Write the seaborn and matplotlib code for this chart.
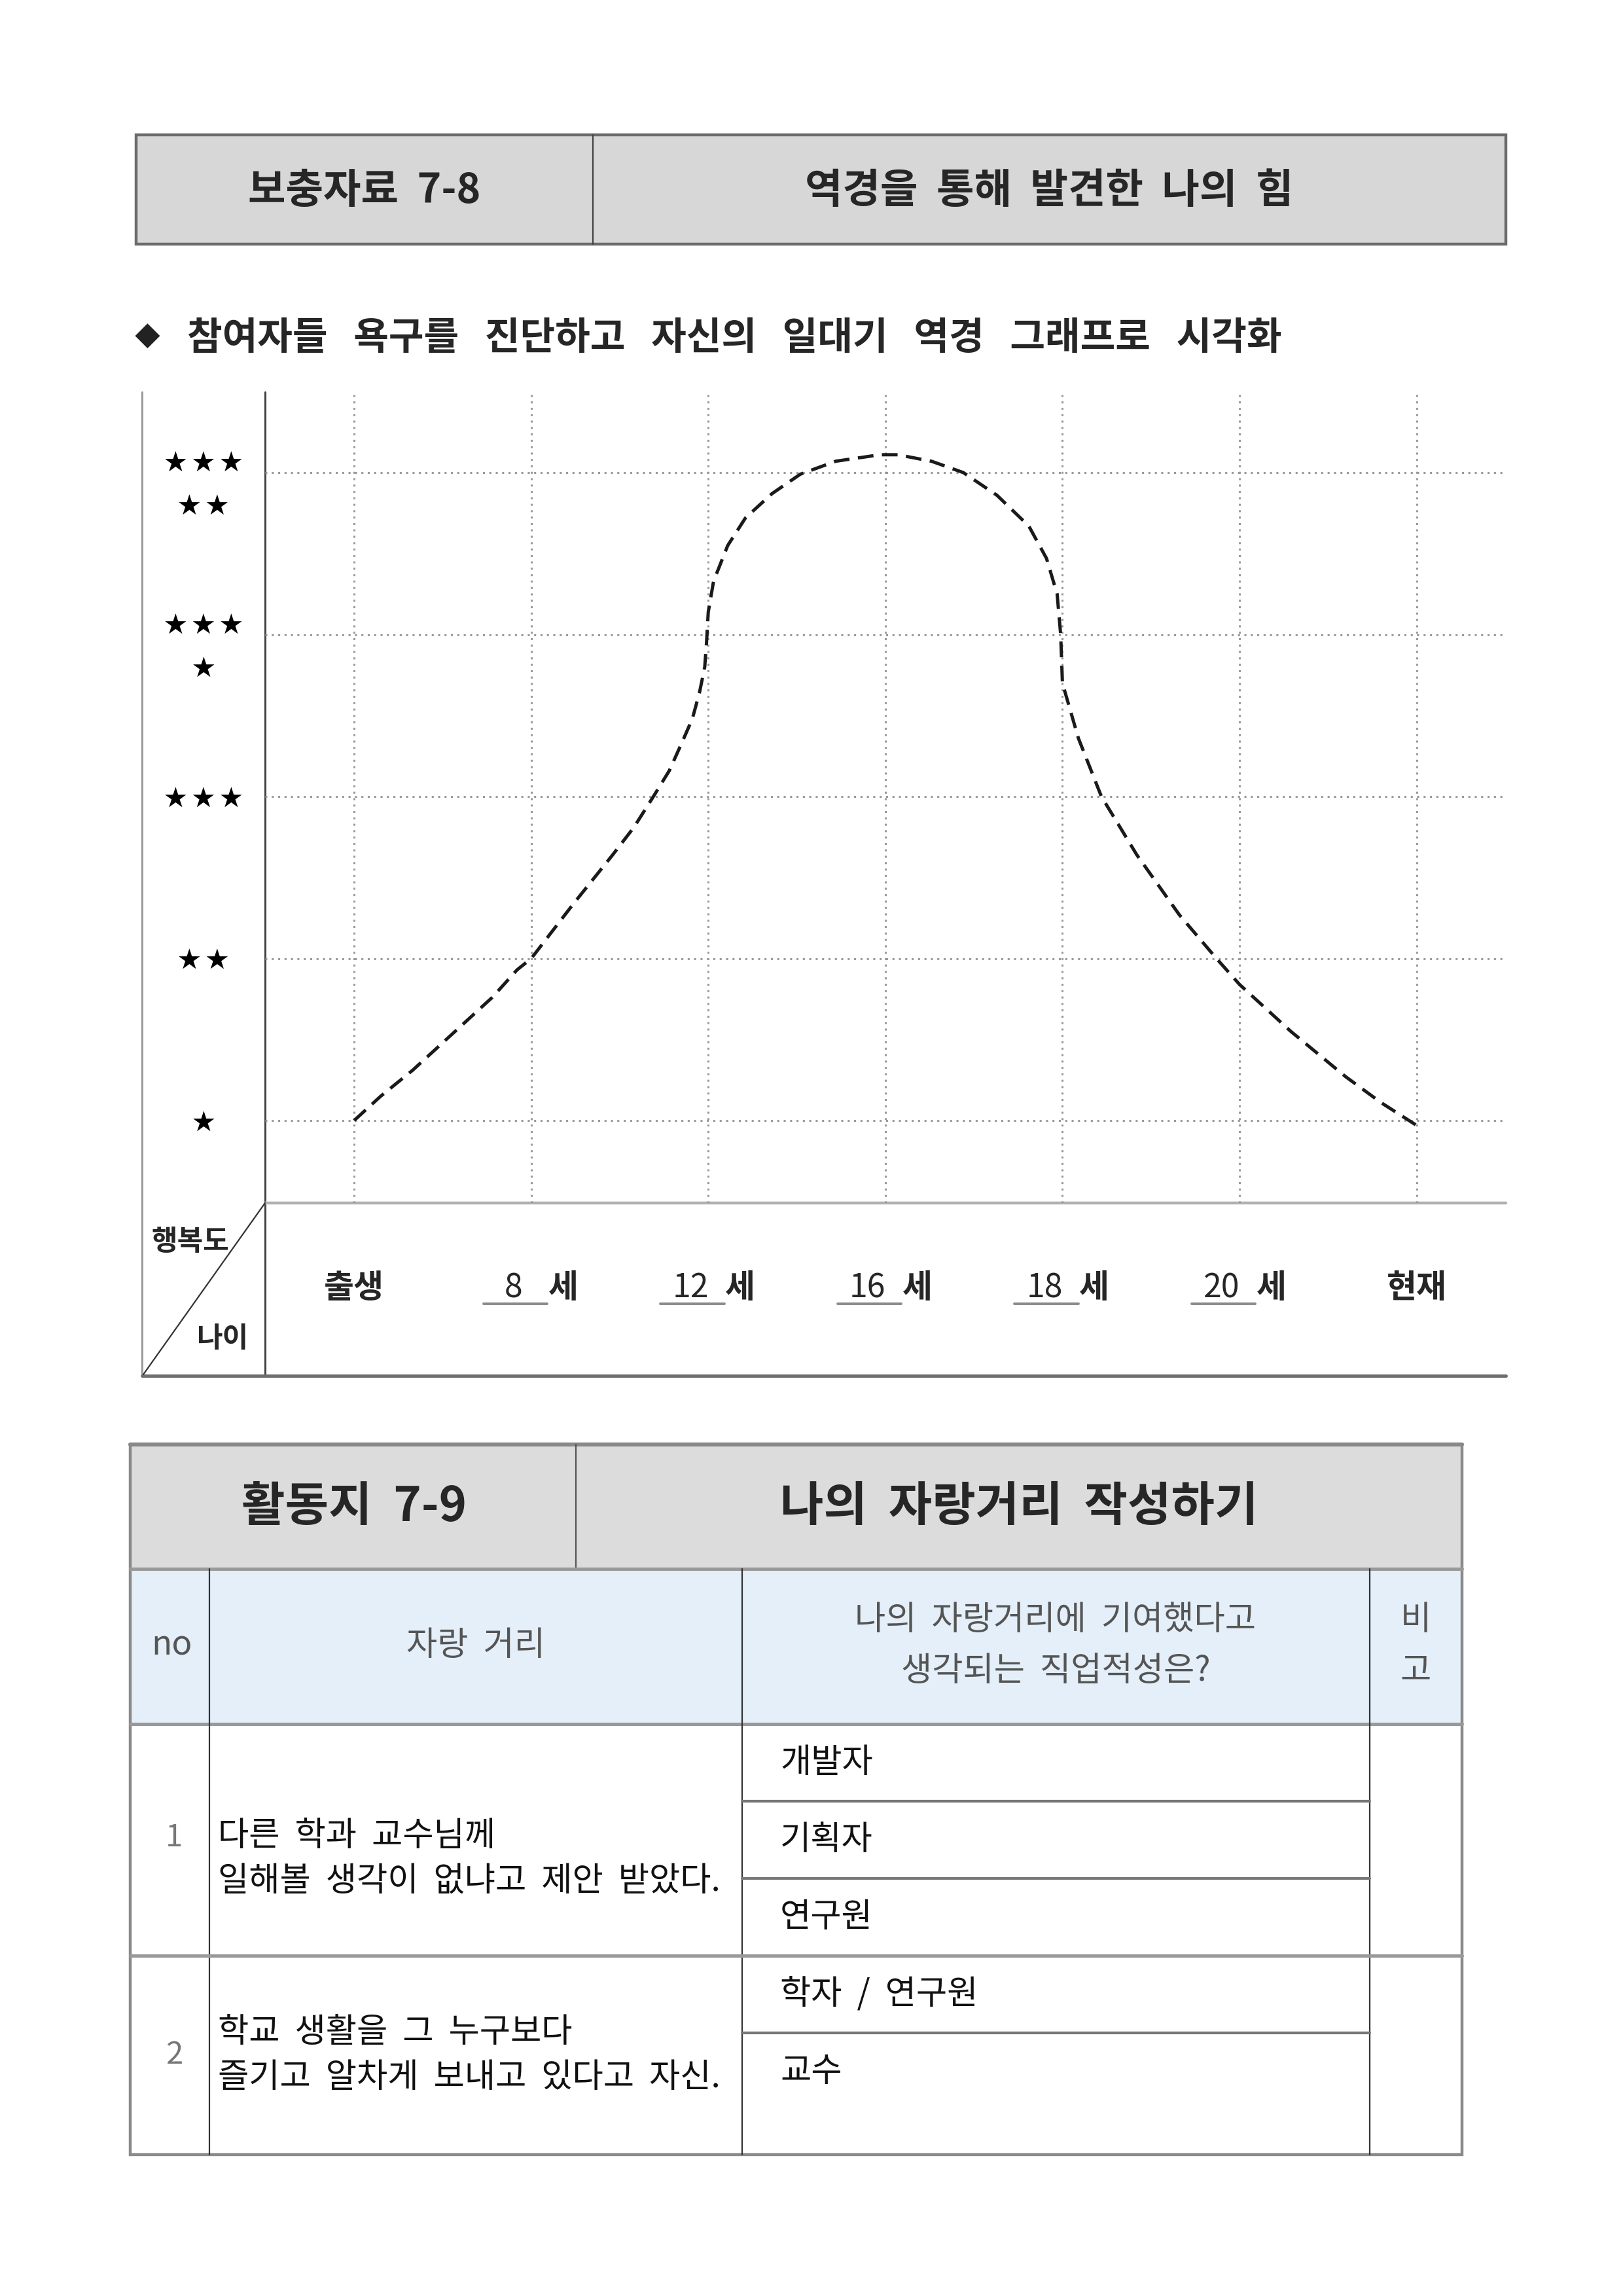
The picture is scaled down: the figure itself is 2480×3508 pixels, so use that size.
import matplotlib
matplotlib.use('Agg')
import matplotlib.pyplot as plt
import seaborn as sns
from matplotlib.patches import Rectangle

# ---- 데이터 ----
header_left = '보충자료  7-8'
header_right = '역경을  통해  발견한  나의  힘'
subtitle_mark = '◆'
subtitle = '참여자들   욕구를   진단하고   자신의   일대기   역경   그래프로   시각화'

ages = ['출생', '8', '12', '16', '18', '20', '현재']
age_unit = ['', '세', '세', '세', '세', '세', '']
levels = [1, 2, 3, 4, 5]
level_labels = ['★', '★ ★', '★ ★ ★', '★ ★ ★\n★', '★ ★ ★\n★ ★']

# 역경 곡선 (x: 나이 구간 위치, y: 행복도) - 그림에서 읽은 값
curve_x = [0.0, 0.15, 0.33, 0.48, 0.63, 0.78, 0.92, 1.0, 1.12, 1.24, 1.35, 1.46,
           1.58, 1.69, 1.78, 1.85, 1.91, 1.95, 1.98, 1.99, 2.0, 2.03, 2.11, 2.21,
           2.36, 2.52, 2.72, 2.97, 3.07, 3.26, 3.44, 3.63, 3.81, 3.91, 3.97, 3.99,
           4.0, 4.09, 4.22, 4.42, 4.66, 4.87, 5.0, 5.29, 5.60, 5.80, 6.0]
curve_y = [1.0, 1.15, 1.31, 1.46, 1.61, 1.76, 1.93, 2.0, 2.17, 2.34, 2.49, 2.64,
           2.81, 3.0, 3.16, 3.33, 3.48, 3.64, 3.80, 3.95, 4.14, 4.33, 4.55, 4.72,
           4.87, 4.99, 5.07, 5.11, 5.11, 5.07, 5.0, 4.86, 4.67, 4.47, 4.25, 4.0,
           3.70, 3.36, 3.0, 2.64, 2.27, 2.0, 1.84, 1.55, 1.27, 1.11, 0.97]

table_title_left = '활동지  7-9'
table_title_right = '나의  자랑거리  작성하기'
table_cols = ['no', '자랑  거리', '나의  자랑거리에  기여했다고\n생각되는  직업적성은?', '비\n고']
row_no = ['1', '2']
row_text = ['다른  학과  교수님께\n일해볼  생각이  없냐고  제안  받았다.',
            '학교  생활을  그  누구보다\n즐기고  알차게  보내고  있다고  자신.']
row_jobs = [['개발자', '기획자', '연구원'], ['학자  /  연구원', '교수']]

# ---- 스타일 ----
sns.set_theme(style='white')
plt.rcParams['font.family'] = ['Noto Sans CJK KR', 'DejaVu Sans']

W, H = 2480, 3508
fig = plt.figure(figsize=(W / 200, H / 200), dpi=200)
fig.patch.set_facecolor('white')

# 페이지 전체 (픽셀 좌표)
ov = fig.add_axes([0, 0, 1, 1])
ov.set_xlim(0, W)
ov.set_ylim(H, 0)
ov.axis('off')

# 상단 제목 상자
ov.add_patch(Rectangle((208, 206), 2093, 167, fc='#d7d7d7', ec='#6b6b6b', lw=1.6))
ov.plot([906, 906], [206, 373], color='#444444', lw=0.8)
ov.text(557, 291, header_left, ha='center', va='center', fontsize=22.5, fontweight='bold')
ov.text(1603, 291, header_right, ha='center', va='center', fontsize=22.5, fontweight='bold')

ov.text(206, 517, subtitle_mark, ha='left', va='center', fontsize=14, color='#222222')
ov.text(286, 517, subtitle, ha='left', va='center', fontsize=21, fontweight='bold')

# 그래프 틀
ov.plot([217, 217], [599, 2102], color='#9a9a9a', lw=1.1)
ov.plot([405, 405], [599, 2102], color='#444444', lw=1.1)
ov.plot([405, 2301], [1838, 1838], color='#b0b0b0', lw=1.6)
ov.plot([217, 2301], [2102, 2102], color='#6e6e6e', lw=1.8)
ov.plot([219, 405], [2100, 1838], color='#333333', lw=0.8)
ov.text(291, 1897, '행복도', ha='center', va='center', fontsize=15.5, fontweight='bold')
ov.text(340, 2045, '나이', ha='center', va='center', fontsize=15.5, fontweight='bold')

# ---- 역경 그래프 ----
ax = fig.add_axes([405 / W, 1 - 1838 / H, 1896 / W, 1239 / H])
ax.set_facecolor('none')
sns.lineplot(x=curve_x, y=curve_y, sort=False, estimator=None, color='#1a1a1a',
             lw=1.8, ax=ax)
ax.lines[0].set_linestyle((0, (4.8, 2.6)))

ax.set_xticks(range(len(ages)))
ax.set_xticklabels([])
ax.set_yticks(levels)
ax.set_yticklabels(level_labels)
for t in ax.get_yticklabels():
    t.set_ha('center')
    t.set_linespacing(2.15)
ax.tick_params(axis='y', length=0, pad=34, labelsize=12.5, labelcolor='black')
ax.tick_params(axis='x', length=0)
ax.grid(True, color='#999999', linestyle=(0, (1, 2.2)), lw=1.1)
for s in ax.spines.values():
    s.set_visible(False)

xtr = ax.get_xaxis_transform()
for i, (a, u) in enumerate(zip(ages, age_unit)):
    if u == '':
        ax.text(i, -0.105, a, transform=xtr, ha='center', va='center',
                fontsize=18, fontweight='bold', clip_on=False)
    else:
        ax.text(i - 0.10, -0.105, a, transform=xtr, ha='center', va='center',
                fontsize=18, clip_on=False)
        ax.text(i + 0.18, -0.105, u, transform=xtr, ha='center', va='center',
                fontsize=18, fontweight='bold', clip_on=False)
        ax.plot([i - 0.27, i + 0.09], [-0.124, -0.124], transform=xtr,
                color='#8a8a8a', lw=1.4, clip_on=False)

ax.set_xlim(-0.503, 6.504)
ax.set_ylim(0.491, 5.497)

# ---- 활동지 표 ----
tx0, tx1 = 199, 2234
ty0, ty_title, ty_head, ty_end = 2207, 2397, 2634, 3292
col_x = [320, 1134, 2093]
sub_h = 118

ov.add_patch(Rectangle((tx0, ty0), tx1 - tx0, ty_title - ty0, fc='#dcdcdc', ec='none'))
ov.add_patch(Rectangle((tx0, ty_title), tx1 - tx0, ty_head - ty_title, fc='#e4eff9', ec='none'))
ov.add_patch(Rectangle((tx0, ty0), tx1 - tx0, ty_end - ty0, fc='none', ec='#8a8a8a', lw=1.6))
ov.plot([tx0, tx1], [ty0, ty0], color='#888888', lw=2.2)
ov.plot([880, 880], [ty0, ty_title], color='#555555', lw=0.8)
ov.plot([tx0, tx1], [ty_title, ty_title], color='#999999', lw=1.8)
ov.plot([tx0, tx1], [ty_head, ty_head], color='#999999', lw=1.8)
for cx in col_x:
    ov.plot([cx, cx], [ty_title, ty_end], color='#333333', lw=0.8)

ov.text(541, 2303, table_title_left, ha='center', va='center', fontsize=26, fontweight='bold')
ov.text(1557, 2303, table_title_right, ha='center', va='center', fontsize=26, fontweight='bold')

head_x = [262, 727, 1613, 2163]
for hx, name in zip(head_x, table_cols):
    ov.text(hx, 2514, name, ha='center', va='center', fontsize=18.5, color='#555555',
            linespacing=1.6)

row_top = ty_head
row_text_y = [2840, 3140]
row_no_y = [2808, 3140]
for r, (no, txt, jobs) in enumerate(zip(row_no, row_text, row_jobs)):
    if r > 0:
        ov.plot([tx0, tx1], [row_top, row_top], color='#999999', lw=1.8)
    ov.text(266, row_no_y[r], no, ha='center', va='center', fontsize=17, color='#777777')
    ov.text(333, row_text_y[r], txt, ha='left', va='center', fontsize=18.5,
            color='#111111', linespacing=1.38)
    for k, job in enumerate(jobs):
        if k > 0:
            ov.plot([col_x[1], col_x[2]], [row_top + sub_h * k] * 2, color='#777777', lw=1.5)
        ov.text(1192, row_top + sub_h * k + 59, job, ha='left', va='center',
                fontsize=18.5, color='#111111')
    row_top += sub_h * len(jobs)

fig.savefig('out.png', dpi=200, facecolor='white')
